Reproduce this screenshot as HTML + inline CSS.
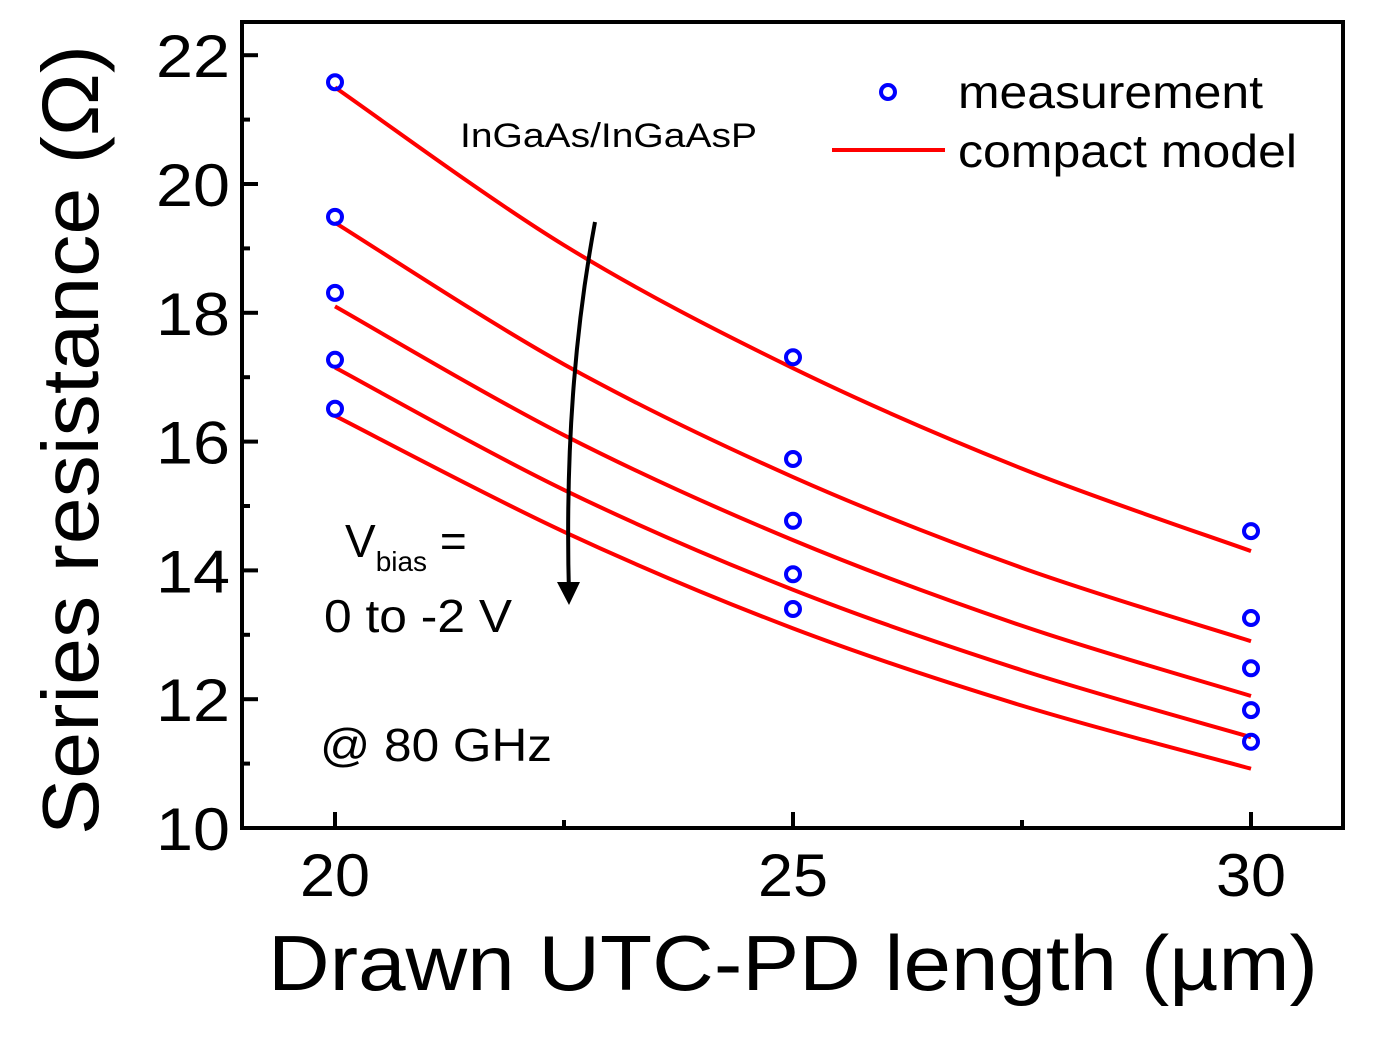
<!DOCTYPE html>
<html><head><meta charset="utf-8"><style>
html,body{margin:0;padding:0;background:#fff;}
svg{display:block;font-family:"Liberation Sans",Arial,sans-serif;}
</style></head><body>
<svg id="chart" width="1379" height="1039" viewBox="0 0 1379 1039">
<rect x="242" y="22" width="1101" height="806" fill="none" stroke="#000" stroke-width="4"/>
<g id="axes"></g>
<g id="curves"></g>
<g id="points"></g>
<text x="0" y="0" transform="translate(98,440) rotate(-90)" text-anchor="middle" font-size="80" textLength="790" lengthAdjust="spacingAndGlyphs">Series resistance (Ω)</text>
<text x="793" y="990" text-anchor="middle" font-size="78" textLength="1050" lengthAdjust="spacingAndGlyphs">Drawn UTC-PD length (µm)</text>
<g>
<circle cx="888" cy="92" r="7" fill="none" stroke="#00f" stroke-width="4"/>
<text x="958" y="108" font-size="46" textLength="305" lengthAdjust="spacingAndGlyphs">measurement</text>
<line x1="832" y1="150" x2="945" y2="150" stroke="#f00" stroke-width="4"/>
<text x="958" y="167" font-size="46" textLength="339" lengthAdjust="spacingAndGlyphs">compact model</text>
</g>
<text x="460" y="147" font-size="34" textLength="297" lengthAdjust="spacingAndGlyphs">InGaAs/InGaAsP</text>
<path d="M595,222 C575,330 565,450 569,595" fill="none" stroke="#000" stroke-width="4"/>
<polygon points="557,582 580,582 569,605" fill="#000"/>
<text x="345" y="557" font-size="46">V<tspan font-size="28" dy="14">bias</tspan><tspan dy="-14"> =</tspan></text>
<text x="324" y="632" font-size="46" textLength="188" lengthAdjust="spacingAndGlyphs">0 to -2 V</text>
<text x="320" y="761" font-size="46" textLength="232" lengthAdjust="spacingAndGlyphs">@ 80 GHz</text>
</svg>
<script>
const xTicks = [20, 25, 30];
const xMinor = [22.5, 27.5];
const yTicks = [10, 12, 14, 16, 18, 20, 22];
const yMinor = [11, 13, 15, 17, 19, 21];
const measX = [20, 25, 30];
const meas1 = [21.58, 17.31, 14.61];
const meas2 = [19.49, 15.73, 13.26];
const meas3 = [18.31, 14.77, 12.48];
const meas4 = [17.27, 13.94, 11.83];
const meas5 = [16.51, 13.40, 11.34];
const modelX = [20, 22.5, 25, 27.5, 30];
const model1 = [21.5, 19.05, 17.14, 15.58, 14.3];
const model2 = [19.4, 17.2, 15.45, 14.04, 12.9];
const model3 = [18.1, 16.1, 14.47, 13.14, 12.05];
const model4 = [17.15, 15.25, 13.7, 12.45, 11.41];
const model5 = [16.4, 14.6, 13.1, 11.9, 10.92];

const NS = "http://www.w3.org/2000/svg";
function sx(v){ return 335 + (v - 20) * 91.6; }
function sy(v){ return 828 - (v - 10) * 64.4; }
function mk(tag, attrs, parent){
  const e = document.createElementNS(NS, tag);
  for (const k in attrs) e.setAttribute(k, attrs[k]);
  parent.appendChild(e); return e;
}
const axes = document.getElementById('axes');
xTicks.forEach(v => {
  const t = mk('line', {x1: sx(v), x2: sx(v), y1: 828, y2: 812, stroke: '#000', 'stroke-width': 4}, axes);
  
  
  const l = mk('text', {x: sx(v), y: 896, 'text-anchor': 'middle', 'font-size': 60, textLength: 70, lengthAdjust: 'spacingAndGlyphs'}, axes);
  l.textContent = v;
  
  
});
xMinor.forEach(v => {
  const t = mk('line', {x1: sx(v), x2: sx(v), y1: 828, y2: 820, stroke: '#000', 'stroke-width': 4}, axes);
  
  
});
yTicks.forEach(v => {
  const t = mk('line', {x1: 242, x2: 258, y1: sy(v), y2: sy(v), stroke: '#000', 'stroke-width': 4}, axes);
  
  
  const l = mk('text', {x: 230, y: sy(v) + 22, 'text-anchor': 'end', 'font-size': 60, textLength: 74, lengthAdjust: 'spacingAndGlyphs'}, axes);
  l.textContent = v;
  
  
});
yMinor.forEach(v => {
  const t = mk('line', {x1: 242, x2: 250, y1: sy(v), y2: sy(v), stroke: '#000', 'stroke-width': 4}, axes);
  
  
});
function smooth(xs, ys){
  const p = xs.map((x,i)=>[sx(x), sy(ys[i])]);
  let d = 'M' + p[0][0] + ',' + p[0][1];
  for (let i=0;i<p.length-1;i++){
    const p0 = p[Math.max(0,i-1)], p1 = p[i], p2 = p[i+1], p3 = p[Math.min(p.length-1,i+2)];
    const c1 = [p1[0]+(p2[0]-p0[0])/6, p1[1]+(p2[1]-p0[1])/6];
    const c2 = [p2[0]-(p3[0]-p1[0])/6, p2[1]-(p3[1]-p1[1])/6];
    d += ' C'+c1[0]+','+c1[1]+' '+c2[0]+','+c2[1]+' '+p2[0]+','+p2[1];
  }
  return d;
}
const curves = document.getElementById('curves');
[model1, model2, model3, model4, model5].forEach((m, i) => {
  const c = mk('path', {d: smooth(modelX, m), fill: 'none', stroke: '#f00', 'stroke-width': 4}, curves);
  
  
});
const pts = document.getElementById('points');
[meas1, meas2, meas3, meas4, meas5].forEach((s, i) => {
  s.forEach((v, j) => {
    const c = mk('circle', {cx: sx(measX[j]), cy: sy(v), r: 7, fill: 'none', stroke: '#00f', 'stroke-width': 4}, pts);
    
    
  });
});
</script>
</body></html>
